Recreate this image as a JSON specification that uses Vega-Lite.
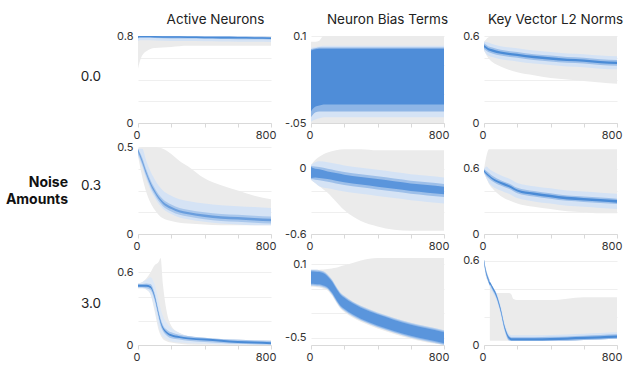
{
  "$schema": "https://vega.github.io/schema/vega-lite/v6.json",
  "padding": {"left": 5, "top": 12, "right": 0, "bottom": 0},
  "background": "white",
  "config": {
    "font": "Inter",
    "view": {"stroke": null},
    "axis": {"labelFont": "Inter", "labelFontSize": 11, "labelColor": "#333333", "gridColor": "#efefef"},
    "axisX": {"grid": false, "tickColor": "#d9d9d9", "domainColor": "#d9d9d9", "tickSize": 4, "labelFlush": true, "labelFlushOffset": 5, "labelPadding": 2, "title": null},
    "axisY": {"domain": false, "ticks": false, "labelPadding": 5, "title": null},
    "title": {"font": "Inter", "fontSize": 13.5, "fontWeight": "normal", "color": "#222222", "anchor": "middle", "frame": "group", "offset": 4}
  },
  "datasets": {
    "rowlabels": [{"row": "0.0"}, {"row": "0.3"}, {"row": "3.0"}],
    "heading": [{"t": "Noise Amounts"}],
    "a00": [
      {"s": 0, "k": "g", "lo": 0.50, "hi": 0.80}, {"s": 10, "k": "g", "lo": 0.56, "hi": 0.80}, {"s": 25, "k": "g", "lo": 0.62, "hi": 0.80}, {"s": 50, "k": "g", "lo": 0.66, "hi": 0.80}, {"s": 100, "k": "g", "lo": 0.69, "hi": 0.80}, {"s": 200, "k": "g", "lo": 0.70, "hi": 0.80}, {"s": 300, "k": "g", "lo": 0.71, "hi": 0.80}, {"s": 400, "k": "g", "lo": 0.71, "hi": 0.80}, {"s": 500, "k": "g", "lo": 0.71, "hi": 0.80}, {"s": 600, "k": "g", "lo": 0.71, "hi": 0.80}, {"s": 700, "k": "g", "lo": 0.71, "hi": 0.80}, {"s": 800, "k": "g", "lo": 0.71, "hi": 0.80},
      {"s": 0, "k": "o", "lo": 0.755, "hi": 0.80}, {"s": 10, "k": "o", "lo": 0.76, "hi": 0.80}, {"s": 25, "k": "o", "lo": 0.761, "hi": 0.80}, {"s": 50, "k": "o", "lo": 0.76, "hi": 0.80}, {"s": 100, "k": "o", "lo": 0.758, "hi": 0.80}, {"s": 200, "k": "o", "lo": 0.755, "hi": 0.80}, {"s": 300, "k": "o", "lo": 0.753, "hi": 0.80}, {"s": 400, "k": "o", "lo": 0.751, "hi": 0.80}, {"s": 500, "k": "o", "lo": 0.75, "hi": 0.799}, {"s": 600, "k": "o", "lo": 0.748, "hi": 0.797}, {"s": 700, "k": "o", "lo": 0.746, "hi": 0.795}, {"s": 800, "k": "o", "lo": 0.744, "hi": 0.793},
      {"s": 0, "k": "m", "lo": 0.778, "hi": 0.80}, {"s": 10, "k": "m", "lo": 0.783, "hi": 0.80}, {"s": 25, "k": "m", "lo": 0.784, "hi": 0.80}, {"s": 50, "k": "m", "lo": 0.783, "hi": 0.80}, {"s": 100, "k": "m", "lo": 0.781, "hi": 0.80}, {"s": 200, "k": "m", "lo": 0.778, "hi": 0.80}, {"s": 300, "k": "m", "lo": 0.776, "hi": 0.80}, {"s": 400, "k": "m", "lo": 0.774, "hi": 0.798}, {"s": 500, "k": "m", "lo": 0.773, "hi": 0.797}, {"s": 600, "k": "m", "lo": 0.771, "hi": 0.795}, {"s": 700, "k": "m", "lo": 0.769, "hi": 0.793}, {"s": 800, "k": "m", "lo": 0.767, "hi": 0.791},
      {"s": 0, "k": "c", "lo": 0.783, "hi": 0.797}, {"s": 10, "k": "c", "lo": 0.788, "hi": 0.80}, {"s": 25, "k": "c", "lo": 0.789, "hi": 0.80}, {"s": 50, "k": "c", "lo": 0.788, "hi": 0.80}, {"s": 100, "k": "c", "lo": 0.786, "hi": 0.80}, {"s": 200, "k": "c", "lo": 0.783, "hi": 0.797}, {"s": 300, "k": "c", "lo": 0.781, "hi": 0.795}, {"s": 400, "k": "c", "lo": 0.779, "hi": 0.793}, {"s": 500, "k": "c", "lo": 0.778, "hi": 0.792}, {"s": 600, "k": "c", "lo": 0.776, "hi": 0.79}, {"s": 700, "k": "c", "lo": 0.774, "hi": 0.788}, {"s": 800, "k": "c", "lo": 0.772, "hi": 0.786}
    ],
    "b00": [
      {"s": 0, "k": "g", "lo": -0.05, "hi": 0.09}, {"s": 10, "k": "g", "lo": -0.05, "hi": 0.09}, {"s": 25, "k": "g", "lo": -0.05, "hi": 0.09}, {"s": 50, "k": "g", "lo": -0.05, "hi": 0.092}, {"s": 75, "k": "g", "lo": -0.05, "hi": 0.1}, {"s": 200, "k": "g", "lo": -0.05, "hi": 0.1}, {"s": 400, "k": "g", "lo": -0.05, "hi": 0.1}, {"s": 600, "k": "g", "lo": -0.05, "hi": 0.1}, {"s": 800, "k": "g", "lo": -0.05, "hi": 0.1},
      {"s": 0, "k": "o", "lo": -0.048, "hi": 0.079}, {"s": 10, "k": "o", "lo": -0.046, "hi": 0.08}, {"s": 25, "k": "o", "lo": -0.044, "hi": 0.081}, {"s": 50, "k": "o", "lo": -0.042, "hi": 0.082}, {"s": 75, "k": "o", "lo": -0.04, "hi": 0.083}, {"s": 200, "k": "o", "lo": -0.04, "hi": 0.083}, {"s": 400, "k": "o", "lo": -0.04, "hi": 0.083}, {"s": 600, "k": "o", "lo": -0.04, "hi": 0.083}, {"s": 800, "k": "o", "lo": -0.04, "hi": 0.083},
      {"s": 0, "k": "m", "lo": -0.04, "hi": 0.077}, {"s": 10, "k": "m", "lo": -0.036, "hi": 0.078}, {"s": 25, "k": "m", "lo": -0.032, "hi": 0.079}, {"s": 50, "k": "m", "lo": -0.03, "hi": 0.08}, {"s": 75, "k": "m", "lo": -0.03, "hi": 0.08}, {"s": 200, "k": "m", "lo": -0.03, "hi": 0.08}, {"s": 400, "k": "m", "lo": -0.03, "hi": 0.08}, {"s": 600, "k": "m", "lo": -0.03, "hi": 0.08}, {"s": 800, "k": "m", "lo": -0.03, "hi": 0.08},
      {"s": 0, "k": "c", "lo": -0.03, "hi": 0.075}, {"s": 10, "k": "c", "lo": -0.026, "hi": 0.076}, {"s": 25, "k": "c", "lo": -0.022, "hi": 0.077}, {"s": 50, "k": "c", "lo": -0.02, "hi": 0.078}, {"s": 75, "k": "c", "lo": -0.018, "hi": 0.078}, {"s": 200, "k": "c", "lo": -0.018, "hi": 0.078}, {"s": 400, "k": "c", "lo": -0.018, "hi": 0.078}, {"s": 600, "k": "c", "lo": -0.018, "hi": 0.078}, {"s": 800, "k": "c", "lo": -0.018, "hi": 0.078}
    ],
    "c00": [
      {"s": 0, "k": "g", "lo": 0.50, "hi": 0.56}, {"s": 25, "k": "g", "lo": 0.45, "hi": 0.59}, {"s": 50, "k": "g", "lo": 0.42, "hi": 0.60}, {"s": 100, "k": "g", "lo": 0.39, "hi": 0.60}, {"s": 200, "k": "g", "lo": 0.35, "hi": 0.60}, {"s": 300, "k": "g", "lo": 0.33, "hi": 0.60}, {"s": 400, "k": "g", "lo": 0.31, "hi": 0.60}, {"s": 500, "k": "g", "lo": 0.30, "hi": 0.60}, {"s": 600, "k": "g", "lo": 0.29, "hi": 0.60}, {"s": 700, "k": "g", "lo": 0.28, "hi": 0.60}, {"s": 800, "k": "g", "lo": 0.27, "hi": 0.60},
      {"s": 0, "k": "o", "lo": 0.50, "hi": 0.56}, {"s": 25, "k": "o", "lo": 0.465, "hi": 0.555}, {"s": 50, "k": "o", "lo": 0.455, "hi": 0.545}, {"s": 100, "k": "o", "lo": 0.44, "hi": 0.53}, {"s": 200, "k": "o", "lo": 0.425, "hi": 0.515}, {"s": 300, "k": "o", "lo": 0.41, "hi": 0.50}, {"s": 400, "k": "o", "lo": 0.40, "hi": 0.49}, {"s": 500, "k": "o", "lo": 0.39, "hi": 0.48}, {"s": 600, "k": "o", "lo": 0.385, "hi": 0.475}, {"s": 700, "k": "o", "lo": 0.375, "hi": 0.465}, {"s": 800, "k": "o", "lo": 0.37, "hi": 0.46},
      {"s": 0, "k": "m", "lo": 0.51, "hi": 0.55}, {"s": 25, "k": "m", "lo": 0.49, "hi": 0.53}, {"s": 50, "k": "m", "lo": 0.48, "hi": 0.52}, {"s": 100, "k": "m", "lo": 0.465, "hi": 0.505}, {"s": 200, "k": "m", "lo": 0.45, "hi": 0.49}, {"s": 300, "k": "m", "lo": 0.435, "hi": 0.475}, {"s": 400, "k": "m", "lo": 0.425, "hi": 0.465}, {"s": 500, "k": "m", "lo": 0.415, "hi": 0.455}, {"s": 600, "k": "m", "lo": 0.41, "hi": 0.45}, {"s": 700, "k": "m", "lo": 0.40, "hi": 0.44}, {"s": 800, "k": "m", "lo": 0.395, "hi": 0.435},
      {"s": 0, "k": "c", "lo": 0.522, "hi": 0.538}, {"s": 25, "k": "c", "lo": 0.502, "hi": 0.518}, {"s": 50, "k": "c", "lo": 0.492, "hi": 0.508}, {"s": 100, "k": "c", "lo": 0.477, "hi": 0.493}, {"s": 200, "k": "c", "lo": 0.462, "hi": 0.478}, {"s": 300, "k": "c", "lo": 0.447, "hi": 0.463}, {"s": 400, "k": "c", "lo": 0.437, "hi": 0.453}, {"s": 500, "k": "c", "lo": 0.427, "hi": 0.443}, {"s": 600, "k": "c", "lo": 0.422, "hi": 0.438}, {"s": 700, "k": "c", "lo": 0.412, "hi": 0.428}, {"s": 800, "k": "c", "lo": 0.407, "hi": 0.423}
    ],
    "a03": [
      {"s": 0, "k": "g", "lo": 0.45, "hi": 0.49}, {"s": 25, "k": "g", "lo": 0.33, "hi": 0.50}, {"s": 50, "k": "g", "lo": 0.24, "hi": 0.50}, {"s": 75, "k": "g", "lo": 0.18, "hi": 0.50}, {"s": 100, "k": "g", "lo": 0.14, "hi": 0.50}, {"s": 150, "k": "g", "lo": 0.09, "hi": 0.49}, {"s": 200, "k": "g", "lo": 0.075, "hi": 0.46}, {"s": 250, "k": "g", "lo": 0.065, "hi": 0.42}, {"s": 300, "k": "g", "lo": 0.06, "hi": 0.39}, {"s": 400, "k": "g", "lo": 0.055, "hi": 0.32}, {"s": 500, "k": "g", "lo": 0.05, "hi": 0.28}, {"s": 600, "k": "g", "lo": 0.05, "hi": 0.25}, {"s": 700, "k": "g", "lo": 0.05, "hi": 0.22}, {"s": 800, "k": "g", "lo": 0.05, "hi": 0.20},
      {"s": 0, "k": "o", "lo": 0.45, "hi": 0.49}, {"s": 25, "k": "o", "lo": 0.385, "hi": 0.49}, {"s": 50, "k": "o", "lo": 0.315, "hi": 0.42}, {"s": 75, "k": "o", "lo": 0.255, "hi": 0.36}, {"s": 100, "k": "o", "lo": 0.21, "hi": 0.315}, {"s": 150, "k": "o", "lo": 0.145, "hi": 0.25}, {"s": 200, "k": "o", "lo": 0.115, "hi": 0.22}, {"s": 250, "k": "o", "lo": 0.095, "hi": 0.20}, {"s": 300, "k": "o", "lo": 0.085, "hi": 0.19}, {"s": 400, "k": "o", "lo": 0.07, "hi": 0.175}, {"s": 500, "k": "o", "lo": 0.06, "hi": 0.165}, {"s": 600, "k": "o", "lo": 0.055, "hi": 0.16}, {"s": 700, "k": "o", "lo": 0.05, "hi": 0.155}, {"s": 800, "k": "o", "lo": 0.05, "hi": 0.15},
      {"s": 0, "k": "m", "lo": 0.46, "hi": 0.49}, {"s": 25, "k": "m", "lo": 0.40, "hi": 0.44}, {"s": 50, "k": "m", "lo": 0.33, "hi": 0.37}, {"s": 75, "k": "m", "lo": 0.27, "hi": 0.31}, {"s": 100, "k": "m", "lo": 0.225, "hi": 0.265}, {"s": 150, "k": "m", "lo": 0.16, "hi": 0.20}, {"s": 200, "k": "m", "lo": 0.13, "hi": 0.17}, {"s": 250, "k": "m", "lo": 0.11, "hi": 0.15}, {"s": 300, "k": "m", "lo": 0.10, "hi": 0.14}, {"s": 400, "k": "m", "lo": 0.085, "hi": 0.125}, {"s": 500, "k": "m", "lo": 0.075, "hi": 0.115}, {"s": 600, "k": "m", "lo": 0.07, "hi": 0.11}, {"s": 700, "k": "m", "lo": 0.065, "hi": 0.105}, {"s": 800, "k": "m", "lo": 0.06, "hi": 0.10},
      {"s": 0, "k": "c", "lo": 0.473, "hi": 0.487}, {"s": 25, "k": "c", "lo": 0.413, "hi": 0.427}, {"s": 50, "k": "c", "lo": 0.343, "hi": 0.357}, {"s": 75, "k": "c", "lo": 0.283, "hi": 0.297}, {"s": 100, "k": "c", "lo": 0.238, "hi": 0.252}, {"s": 150, "k": "c", "lo": 0.173, "hi": 0.187}, {"s": 200, "k": "c", "lo": 0.143, "hi": 0.157}, {"s": 250, "k": "c", "lo": 0.123, "hi": 0.137}, {"s": 300, "k": "c", "lo": 0.113, "hi": 0.127}, {"s": 400, "k": "c", "lo": 0.098, "hi": 0.112}, {"s": 500, "k": "c", "lo": 0.088, "hi": 0.102}, {"s": 600, "k": "c", "lo": 0.083, "hi": 0.097}, {"s": 700, "k": "c", "lo": 0.078, "hi": 0.092}, {"s": 800, "k": "c", "lo": 0.073, "hi": 0.087}
    ],
    "b03": [
      {"s": 0, "k": "g", "lo": -0.10, "hi": 0.035}, {"s": 25, "k": "g", "lo": -0.13, "hi": 0.08}, {"s": 50, "k": "g", "lo": -0.16, "hi": 0.11}, {"s": 100, "k": "g", "lo": -0.22, "hi": 0.15}, {"s": 150, "k": "g", "lo": -0.30, "hi": 0.17}, {"s": 200, "k": "g", "lo": -0.38, "hi": 0.18}, {"s": 300, "k": "g", "lo": -0.48, "hi": 0.18}, {"s": 400, "k": "g", "lo": -0.53, "hi": 0.17}, {"s": 500, "k": "g", "lo": -0.56, "hi": 0.17}, {"s": 600, "k": "g", "lo": -0.57, "hi": 0.17}, {"s": 700, "k": "g", "lo": -0.57, "hi": 0.17}, {"s": 800, "k": "g", "lo": -0.57, "hi": 0.17},
      {"s": 0, "k": "o", "lo": -0.10, "hi": 0.035}, {"s": 25, "k": "o", "lo": -0.13, "hi": 0.06}, {"s": 50, "k": "o", "lo": -0.16, "hi": 0.07}, {"s": 100, "k": "o", "lo": -0.18, "hi": 0.06}, {"s": 150, "k": "o", "lo": -0.195, "hi": 0.045}, {"s": 200, "k": "o", "lo": -0.21, "hi": 0.03}, {"s": 300, "k": "o", "lo": -0.23, "hi": 0.01}, {"s": 400, "k": "o", "lo": -0.25, "hi": -0.01}, {"s": 500, "k": "o", "lo": -0.27, "hi": -0.03}, {"s": 600, "k": "o", "lo": -0.29, "hi": -0.05}, {"s": 700, "k": "o", "lo": -0.305, "hi": -0.065}, {"s": 800, "k": "o", "lo": -0.32, "hi": -0.08},
      {"s": 0, "k": "m", "lo": -0.095, "hi": 0.025}, {"s": 25, "k": "m", "lo": -0.10, "hi": 0.02}, {"s": 50, "k": "m", "lo": -0.105, "hi": 0.015}, {"s": 100, "k": "m", "lo": -0.12, "hi": 0.0}, {"s": 150, "k": "m", "lo": -0.135, "hi": -0.015}, {"s": 200, "k": "m", "lo": -0.15, "hi": -0.03}, {"s": 300, "k": "m", "lo": -0.17, "hi": -0.05}, {"s": 400, "k": "m", "lo": -0.19, "hi": -0.07}, {"s": 500, "k": "m", "lo": -0.21, "hi": -0.09}, {"s": 600, "k": "m", "lo": -0.23, "hi": -0.11}, {"s": 700, "k": "m", "lo": -0.245, "hi": -0.125}, {"s": 800, "k": "m", "lo": -0.26, "hi": -0.14},
      {"s": 0, "k": "c", "lo": -0.085, "hi": 0.015}, {"s": 25, "k": "c", "lo": -0.08, "hi": 0.0}, {"s": 50, "k": "c", "lo": -0.085, "hi": -0.005}, {"s": 100, "k": "c", "lo": -0.095, "hi": -0.025}, {"s": 150, "k": "c", "lo": -0.11, "hi": -0.04}, {"s": 200, "k": "c", "lo": -0.125, "hi": -0.055}, {"s": 300, "k": "c", "lo": -0.145, "hi": -0.075}, {"s": 400, "k": "c", "lo": -0.165, "hi": -0.095}, {"s": 500, "k": "c", "lo": -0.185, "hi": -0.115}, {"s": 600, "k": "c", "lo": -0.205, "hi": -0.135}, {"s": 700, "k": "c", "lo": -0.22, "hi": -0.15}, {"s": 800, "k": "c", "lo": -0.235, "hi": -0.165}
    ],
    "c03": [
      {"s": 0, "k": "g", "lo": 0.56, "hi": 0.60}, {"s": 15, "k": "g", "lo": 0.51, "hi": 0.72}, {"s": 30, "k": "g", "lo": 0.46, "hi": 0.78}, {"s": 50, "k": "g", "lo": 0.42, "hi": 0.78}, {"s": 100, "k": "g", "lo": 0.35, "hi": 0.78}, {"s": 150, "k": "g", "lo": 0.31, "hi": 0.78}, {"s": 200, "k": "g", "lo": 0.28, "hi": 0.78}, {"s": 300, "k": "g", "lo": 0.25, "hi": 0.78}, {"s": 400, "k": "g", "lo": 0.23, "hi": 0.78}, {"s": 500, "k": "g", "lo": 0.21, "hi": 0.78}, {"s": 600, "k": "g", "lo": 0.20, "hi": 0.78}, {"s": 700, "k": "g", "lo": 0.19, "hi": 0.78}, {"s": 800, "k": "g", "lo": 0.19, "hi": 0.78},
      {"s": 0, "k": "o", "lo": 0.56, "hi": 0.60}, {"s": 15, "k": "o", "lo": 0.51, "hi": 0.62}, {"s": 30, "k": "o", "lo": 0.47, "hi": 0.60}, {"s": 50, "k": "o", "lo": 0.44, "hi": 0.58}, {"s": 100, "k": "o", "lo": 0.40, "hi": 0.54}, {"s": 150, "k": "o", "lo": 0.37, "hi": 0.51}, {"s": 200, "k": "o", "lo": 0.33, "hi": 0.47}, {"s": 300, "k": "o", "lo": 0.30, "hi": 0.44}, {"s": 400, "k": "o", "lo": 0.28, "hi": 0.42}, {"s": 500, "k": "o", "lo": 0.26, "hi": 0.40}, {"s": 600, "k": "o", "lo": 0.25, "hi": 0.39}, {"s": 700, "k": "o", "lo": 0.24, "hi": 0.38}, {"s": 800, "k": "o", "lo": 0.23, "hi": 0.37},
      {"s": 0, "k": "m", "lo": 0.565, "hi": 0.595}, {"s": 15, "k": "m", "lo": 0.53, "hi": 0.58}, {"s": 30, "k": "m", "lo": 0.51, "hi": 0.56}, {"s": 50, "k": "m", "lo": 0.485, "hi": 0.535}, {"s": 100, "k": "m", "lo": 0.445, "hi": 0.495}, {"s": 150, "k": "m", "lo": 0.415, "hi": 0.465}, {"s": 200, "k": "m", "lo": 0.375, "hi": 0.425}, {"s": 300, "k": "m", "lo": 0.345, "hi": 0.395}, {"s": 400, "k": "m", "lo": 0.325, "hi": 0.375}, {"s": 500, "k": "m", "lo": 0.305, "hi": 0.355}, {"s": 600, "k": "m", "lo": 0.295, "hi": 0.345}, {"s": 700, "k": "m", "lo": 0.285, "hi": 0.335}, {"s": 800, "k": "m", "lo": 0.275, "hi": 0.325},
      {"s": 0, "k": "c", "lo": 0.572, "hi": 0.588}, {"s": 15, "k": "c", "lo": 0.547, "hi": 0.563}, {"s": 30, "k": "c", "lo": 0.527, "hi": 0.543}, {"s": 50, "k": "c", "lo": 0.502, "hi": 0.518}, {"s": 100, "k": "c", "lo": 0.46, "hi": 0.48}, {"s": 150, "k": "c", "lo": 0.43, "hi": 0.45}, {"s": 200, "k": "c", "lo": 0.39, "hi": 0.41}, {"s": 300, "k": "c", "lo": 0.358, "hi": 0.382}, {"s": 400, "k": "c", "lo": 0.338, "hi": 0.362}, {"s": 500, "k": "c", "lo": 0.318, "hi": 0.342}, {"s": 600, "k": "c", "lo": 0.308, "hi": 0.332}, {"s": 700, "k": "c", "lo": 0.298, "hi": 0.322}, {"s": 800, "k": "c", "lo": 0.288, "hi": 0.312}
    ],
    "a30": [
      {"s": 0, "k": "g", "lo": 0.47, "hi": 0.51}, {"s": 25, "k": "g", "lo": 0.47, "hi": 0.52}, {"s": 50, "k": "g", "lo": 0.46, "hi": 0.55}, {"s": 75, "k": "g", "lo": 0.42, "hi": 0.60}, {"s": 100, "k": "g", "lo": 0.28, "hi": 0.66}, {"s": 125, "k": "g", "lo": 0.12, "hi": 0.69}, {"s": 136, "k": "g", "lo": 0.08, "hi": 0.72}, {"s": 150, "k": "g", "lo": 0.05, "hi": 0.50}, {"s": 175, "k": "g", "lo": 0.03, "hi": 0.26}, {"s": 200, "k": "g", "lo": 0.02, "hi": 0.16}, {"s": 250, "k": "g", "lo": 0.01, "hi": 0.10}, {"s": 300, "k": "g", "lo": 0.005, "hi": 0.075}, {"s": 400, "k": "g", "lo": 0.003, "hi": 0.06}, {"s": 500, "k": "g", "lo": 0.002, "hi": 0.05}, {"s": 600, "k": "g", "lo": 0.002, "hi": 0.045}, {"s": 700, "k": "g", "lo": 0.002, "hi": 0.04}, {"s": 800, "k": "g", "lo": 0.002, "hi": 0.04},
      {"s": 0, "k": "o", "lo": 0.47, "hi": 0.51}, {"s": 25, "k": "o", "lo": 0.47, "hi": 0.52}, {"s": 50, "k": "o", "lo": 0.46, "hi": 0.54}, {"s": 75, "k": "o", "lo": 0.42, "hi": 0.56}, {"s": 100, "k": "o", "lo": 0.30, "hi": 0.50}, {"s": 125, "k": "o", "lo": 0.15, "hi": 0.36}, {"s": 136, "k": "o", "lo": 0.10, "hi": 0.30}, {"s": 150, "k": "o", "lo": 0.07, "hi": 0.24}, {"s": 175, "k": "o", "lo": 0.045, "hi": 0.18}, {"s": 200, "k": "o", "lo": 0.03, "hi": 0.14}, {"s": 250, "k": "o", "lo": 0.02, "hi": 0.10}, {"s": 300, "k": "o", "lo": 0.015, "hi": 0.075}, {"s": 400, "k": "o", "lo": 0.01, "hi": 0.06}, {"s": 500, "k": "o", "lo": 0.005, "hi": 0.05}, {"s": 600, "k": "o", "lo": 0.004, "hi": 0.045}, {"s": 700, "k": "o", "lo": 0.003, "hi": 0.04}, {"s": 800, "k": "o", "lo": 0.002, "hi": 0.04},
      {"s": 0, "k": "m", "lo": 0.475, "hi": 0.505}, {"s": 25, "k": "m", "lo": 0.475, "hi": 0.505}, {"s": 50, "k": "m", "lo": 0.47, "hi": 0.51}, {"s": 75, "k": "m", "lo": 0.455, "hi": 0.505}, {"s": 100, "k": "m", "lo": 0.37, "hi": 0.43}, {"s": 125, "k": "m", "lo": 0.22, "hi": 0.28}, {"s": 136, "k": "m", "lo": 0.16, "hi": 0.22}, {"s": 150, "k": "m", "lo": 0.115, "hi": 0.165}, {"s": 175, "k": "m", "lo": 0.075, "hi": 0.125}, {"s": 200, "k": "m", "lo": 0.055, "hi": 0.105}, {"s": 250, "k": "m", "lo": 0.045, "hi": 0.085}, {"s": 300, "k": "m", "lo": 0.035, "hi": 0.075}, {"s": 400, "k": "m", "lo": 0.025, "hi": 0.06}, {"s": 500, "k": "m", "lo": 0.017, "hi": 0.05}, {"s": 600, "k": "m", "lo": 0.01, "hi": 0.043}, {"s": 700, "k": "m", "lo": 0.006, "hi": 0.038}, {"s": 800, "k": "m", "lo": 0.004, "hi": 0.033},
      {"s": 0, "k": "c", "lo": 0.482, "hi": 0.498}, {"s": 25, "k": "c", "lo": 0.482, "hi": 0.498}, {"s": 50, "k": "c", "lo": 0.482, "hi": 0.498}, {"s": 75, "k": "c", "lo": 0.472, "hi": 0.488}, {"s": 100, "k": "c", "lo": 0.392, "hi": 0.408}, {"s": 125, "k": "c", "lo": 0.242, "hi": 0.258}, {"s": 136, "k": "c", "lo": 0.182, "hi": 0.198}, {"s": 150, "k": "c", "lo": 0.132, "hi": 0.148}, {"s": 175, "k": "c", "lo": 0.092, "hi": 0.108}, {"s": 200, "k": "c", "lo": 0.072, "hi": 0.088}, {"s": 250, "k": "c", "lo": 0.057, "hi": 0.073}, {"s": 300, "k": "c", "lo": 0.047, "hi": 0.063}, {"s": 400, "k": "c", "lo": 0.037, "hi": 0.053}, {"s": 500, "k": "c", "lo": 0.027, "hi": 0.043}, {"s": 600, "k": "c", "lo": 0.017, "hi": 0.033}, {"s": 700, "k": "c", "lo": 0.012, "hi": 0.028}, {"s": 800, "k": "c", "lo": 0.007, "hi": 0.023}
    ],
    "b30": [
      {"s": 0, "k": "g", "lo": -0.085, "hi": 0.055}, {"s": 25, "k": "g", "lo": -0.087, "hi": 0.055}, {"s": 50, "k": "g", "lo": -0.09, "hi": 0.055}, {"s": 75, "k": "g", "lo": -0.10, "hi": 0.056}, {"s": 100, "k": "g", "lo": -0.115, "hi": 0.06}, {"s": 125, "k": "g", "lo": -0.155, "hi": 0.065}, {"s": 150, "k": "g", "lo": -0.21, "hi": 0.07}, {"s": 175, "k": "g", "lo": -0.26, "hi": 0.08}, {"s": 200, "k": "g", "lo": -0.29, "hi": 0.09}, {"s": 250, "k": "g", "lo": -0.335, "hi": 0.11}, {"s": 300, "k": "g", "lo": -0.37, "hi": 0.13}, {"s": 400, "k": "g", "lo": -0.425, "hi": 0.15}, {"s": 500, "k": "g", "lo": -0.47, "hi": 0.15}, {"s": 600, "k": "g", "lo": -0.51, "hi": 0.15}, {"s": 700, "k": "g", "lo": -0.54, "hi": 0.15}, {"s": 800, "k": "g", "lo": -0.56, "hi": 0.15},
      {"s": 0, "k": "o", "lo": -0.076, "hi": 0.055}, {"s": 25, "k": "o", "lo": -0.078, "hi": 0.054}, {"s": 50, "k": "o", "lo": -0.081, "hi": 0.051}, {"s": 75, "k": "o", "lo": -0.091, "hi": 0.041}, {"s": 100, "k": "o", "lo": -0.106, "hi": 0.016}, {"s": 125, "k": "o", "lo": -0.146, "hi": -0.024}, {"s": 150, "k": "o", "lo": -0.201, "hi": -0.079}, {"s": 175, "k": "o", "lo": -0.251, "hi": -0.129}, {"s": 200, "k": "o", "lo": -0.281, "hi": -0.159}, {"s": 250, "k": "o", "lo": -0.326, "hi": -0.204}, {"s": 300, "k": "o", "lo": -0.361, "hi": -0.239}, {"s": 400, "k": "o", "lo": -0.416, "hi": -0.294}, {"s": 500, "k": "o", "lo": -0.461, "hi": -0.339}, {"s": 600, "k": "o", "lo": -0.501, "hi": -0.379}, {"s": 700, "k": "o", "lo": -0.531, "hi": -0.409}, {"s": 800, "k": "o", "lo": -0.56, "hi": -0.439},
      {"s": 0, "k": "m", "lo": -0.068, "hi": 0.048}, {"s": 25, "k": "m", "lo": -0.07, "hi": 0.046}, {"s": 50, "k": "m", "lo": -0.073, "hi": 0.043}, {"s": 75, "k": "m", "lo": -0.083, "hi": 0.033}, {"s": 100, "k": "m", "lo": -0.098, "hi": 0.008}, {"s": 125, "k": "m", "lo": -0.138, "hi": -0.032}, {"s": 150, "k": "m", "lo": -0.193, "hi": -0.087}, {"s": 175, "k": "m", "lo": -0.243, "hi": -0.137}, {"s": 200, "k": "m", "lo": -0.273, "hi": -0.167}, {"s": 250, "k": "m", "lo": -0.318, "hi": -0.212}, {"s": 300, "k": "m", "lo": -0.353, "hi": -0.247}, {"s": 400, "k": "m", "lo": -0.408, "hi": -0.302}, {"s": 500, "k": "m", "lo": -0.453, "hi": -0.347}, {"s": 600, "k": "m", "lo": -0.493, "hi": -0.387}, {"s": 700, "k": "m", "lo": -0.523, "hi": -0.417}, {"s": 800, "k": "m", "lo": -0.553, "hi": -0.447},
      {"s": 0, "k": "c", "lo": -0.06, "hi": 0.04}, {"s": 25, "k": "c", "lo": -0.062, "hi": 0.038}, {"s": 50, "k": "c", "lo": -0.065, "hi": 0.035}, {"s": 75, "k": "c", "lo": -0.075, "hi": 0.025}, {"s": 100, "k": "c", "lo": -0.09, "hi": 0.0}, {"s": 125, "k": "c", "lo": -0.13, "hi": -0.04}, {"s": 150, "k": "c", "lo": -0.185, "hi": -0.095}, {"s": 175, "k": "c", "lo": -0.235, "hi": -0.145}, {"s": 200, "k": "c", "lo": -0.265, "hi": -0.175}, {"s": 250, "k": "c", "lo": -0.31, "hi": -0.22}, {"s": 300, "k": "c", "lo": -0.345, "hi": -0.255}, {"s": 400, "k": "c", "lo": -0.40, "hi": -0.31}, {"s": 500, "k": "c", "lo": -0.445, "hi": -0.355}, {"s": 600, "k": "c", "lo": -0.485, "hi": -0.395}, {"s": 700, "k": "c", "lo": -0.515, "hi": -0.425}, {"s": 800, "k": "c", "lo": -0.545, "hi": -0.455}
    ],
    "c30": [
      {"s": 0, "k": "g", "lo": 0.58, "hi": 0.61}, {"s": 10, "k": "g", "lo": 0.50, "hi": 0.55}, {"s": 25, "k": "g", "lo": 0.45, "hi": 0.49}, {"s": 35, "k": "g", "lo": 0.42, "hi": 0.455}, {"s": 36, "k": "g", "lo": 0.03, "hi": 0.45}, {"s": 50, "k": "g", "lo": 0.03, "hi": 0.42}, {"s": 75, "k": "g", "lo": 0.03, "hi": 0.37}, {"s": 100, "k": "g", "lo": 0.03, "hi": 0.37}, {"s": 125, "k": "g", "lo": 0.03, "hi": 0.37}, {"s": 150, "k": "g", "lo": 0.03, "hi": 0.37}, {"s": 165, "k": "g", "lo": 0.03, "hi": 0.36}, {"s": 175, "k": "g", "lo": 0.03, "hi": 0.33}, {"s": 200, "k": "g", "lo": 0.03, "hi": 0.32}, {"s": 300, "k": "g", "lo": 0.03, "hi": 0.32}, {"s": 400, "k": "g", "lo": 0.03, "hi": 0.32}, {"s": 500, "k": "g", "lo": 0.03, "hi": 0.33}, {"s": 600, "k": "g", "lo": 0.035, "hi": 0.34}, {"s": 700, "k": "g", "lo": 0.04, "hi": 0.34}, {"s": 800, "k": "g", "lo": 0.045, "hi": 0.34},
      {"s": 0, "k": "o", "lo": 0.58, "hi": 0.61}, {"s": 10, "k": "o", "lo": 0.50, "hi": 0.55}, {"s": 25, "k": "o", "lo": 0.45, "hi": 0.49}, {"s": 35, "k": "o", "lo": 0.42, "hi": 0.455}, {"s": 36, "k": "o", "lo": 0.41, "hi": 0.45}, {"s": 50, "k": "o", "lo": 0.38, "hi": 0.42}, {"s": 75, "k": "o", "lo": 0.32, "hi": 0.37}, {"s": 100, "k": "o", "lo": 0.22, "hi": 0.28}, {"s": 125, "k": "o", "lo": 0.09, "hi": 0.15}, {"s": 150, "k": "o", "lo": 0.03, "hi": 0.08}, {"s": 165, "k": "o", "lo": 0.03, "hi": 0.07}, {"s": 175, "k": "o", "lo": 0.03, "hi": 0.07}, {"s": 200, "k": "o", "lo": 0.03, "hi": 0.07}, {"s": 300, "k": "o", "lo": 0.03, "hi": 0.07}, {"s": 400, "k": "o", "lo": 0.03, "hi": 0.072}, {"s": 500, "k": "o", "lo": 0.03, "hi": 0.075}, {"s": 600, "k": "o", "lo": 0.035, "hi": 0.08}, {"s": 700, "k": "o", "lo": 0.04, "hi": 0.085}, {"s": 800, "k": "o", "lo": 0.045, "hi": 0.09},
      {"s": 0, "k": "m", "lo": 0.584, "hi": 0.61}, {"s": 10, "k": "m", "lo": 0.514, "hi": 0.546}, {"s": 25, "k": "m", "lo": 0.454, "hi": 0.486}, {"s": 35, "k": "m", "lo": 0.424, "hi": 0.455}, {"s": 36, "k": "m", "lo": 0.424, "hi": 0.45}, {"s": 50, "k": "m", "lo": 0.394, "hi": 0.42}, {"s": 75, "k": "m", "lo": 0.334, "hi": 0.366}, {"s": 100, "k": "m", "lo": 0.234, "hi": 0.266}, {"s": 125, "k": "m", "lo": 0.104, "hi": 0.136}, {"s": 150, "k": "m", "lo": 0.034, "hi": 0.066}, {"s": 165, "k": "m", "lo": 0.03, "hi": 0.056}, {"s": 175, "k": "m", "lo": 0.03, "hi": 0.056}, {"s": 200, "k": "m", "lo": 0.03, "hi": 0.056}, {"s": 300, "k": "m", "lo": 0.03, "hi": 0.056}, {"s": 400, "k": "m", "lo": 0.03, "hi": 0.058}, {"s": 500, "k": "m", "lo": 0.03, "hi": 0.061}, {"s": 600, "k": "m", "lo": 0.035, "hi": 0.066}, {"s": 700, "k": "m", "lo": 0.04, "hi": 0.071}, {"s": 800, "k": "m", "lo": 0.045, "hi": 0.076},
      {"s": 0, "k": "c", "lo": 0.592, "hi": 0.608}, {"s": 10, "k": "c", "lo": 0.522, "hi": 0.538}, {"s": 25, "k": "c", "lo": 0.462, "hi": 0.478}, {"s": 35, "k": "c", "lo": 0.432, "hi": 0.448}, {"s": 36, "k": "c", "lo": 0.432, "hi": 0.448}, {"s": 50, "k": "c", "lo": 0.402, "hi": 0.418}, {"s": 75, "k": "c", "lo": 0.342, "hi": 0.358}, {"s": 100, "k": "c", "lo": 0.242, "hi": 0.258}, {"s": 125, "k": "c", "lo": 0.112, "hi": 0.128}, {"s": 150, "k": "c", "lo": 0.042, "hi": 0.058}, {"s": 165, "k": "c", "lo": 0.032, "hi": 0.048}, {"s": 175, "k": "c", "lo": 0.032, "hi": 0.048}, {"s": 200, "k": "c", "lo": 0.032, "hi": 0.048}, {"s": 300, "k": "c", "lo": 0.032, "hi": 0.048}, {"s": 400, "k": "c", "lo": 0.034, "hi": 0.05}, {"s": 500, "k": "c", "lo": 0.037, "hi": 0.053}, {"s": 600, "k": "c", "lo": 0.042, "hi": 0.058}, {"s": 700, "k": "c", "lo": 0.047, "hi": 0.063}, {"s": 800, "k": "c", "lo": 0.052, "hi": 0.068}
    ]
  },
  "columns": 4,
  "bounds": "flush",
  "align": "each",
  "spacing": {"row": 24, "column": 40},
  "concat": [
    {
      "width": 92, "height": 87,
      "data": {"name": "rowlabels"},
      "transform": [{"filter": "datum.row == '0.0'"}],
      "mark": {"type": "text", "fontSize": 13.5, "color": "#222222", "align": "right", "baseline": "middle", "dx": 3, "dy": -3},
      "encoding": {"x": {"value": "width"}, "text": {"field": "row"}}
    },
    {
      "data": {"name": "a00"}, "width": 133, "height": 87,
      "title": {"text": "Active Neurons", "dx": 11},
      "encoding": {
        "x": {"field": "s", "type": "quantitative", "scale": {"domain": [0, 800]}, "axis": {"values": [0, 200, 400, 600, 800], "labelExpr": "datum.value == 0 || datum.value == 800 ? datum.label : ''"}},
        "y": {"field": "lo", "type": "quantitative", "scale": {"domain": [0, 0.8]}, "axis": {"values": [0, 0.2, 0.4, 0.6, 0.8], "labelExpr": "datum.value == 0.8 ? '0.8' : datum.value == 0 ? '0' : ''"}},
        "y2": {"field": "hi"}
      },
      "layer": [
        {"transform": [{"filter": "datum.k == 'g'"}], "mark": {"type": "area", "color": "#ebebeb", "interpolate": "monotone"}, "encoding": {}},
        {"transform": [{"filter": "datum.k == 'o'"}], "mark": {"type": "area", "color": "#d5e3f5", "interpolate": "monotone"}, "encoding": {}},
        {"transform": [{"filter": "datum.k == 'm'"}], "mark": {"type": "area", "color": "#9dbfe9", "interpolate": "monotone"}, "encoding": {}},
        {"transform": [{"filter": "datum.k == 'c'"}], "mark": {"type": "area", "color": "#4a8bd6", "interpolate": "monotone"}, "encoding": {}}
      ]
    },
    {
      "data": {"name": "b00"}, "width": 133, "height": 87,
      "title": {"text": "Neuron Bias Terms", "dx": 10},
      "encoding": {
        "x": {"field": "s", "type": "quantitative", "scale": {"domain": [0, 800]}, "axis": {"values": [0, 200, 400, 600, 800], "labelExpr": "datum.value == 0 || datum.value == 800 ? datum.label : ''"}},
        "y": {"field": "lo", "type": "quantitative", "scale": {"domain": [-0.05, 0.1]}, "axis": {"values": [-0.05, 0, 0.05, 0.1], "labelExpr": "datum.value == 0.1 ? '0.1' : datum.value == -0.05 ? '-.05' : ''"}},
        "y2": {"field": "hi"}
      },
      "layer": [
        {"transform": [{"filter": "datum.k == 'g'"}], "mark": {"type": "area", "color": "#ebebeb", "interpolate": "monotone"}, "encoding": {}},
        {"transform": [{"filter": "datum.k == 'o'"}], "mark": {"type": "area", "color": "#d5e3f5", "interpolate": "monotone"}, "encoding": {}},
        {"transform": [{"filter": "datum.k == 'm'"}], "mark": {"type": "area", "color": "#8fb6e6", "interpolate": "monotone"}, "encoding": {}},
        {"transform": [{"filter": "datum.k == 'c'"}], "mark": {"type": "area", "color": "#4f8dd8", "interpolate": "monotone"}, "encoding": {}}
      ]
    },
    {
      "data": {"name": "c00"}, "width": 133, "height": 87,
      "title": {"text": "Key Vector L2 Norms", "dx": 5},
      "encoding": {
        "x": {"field": "s", "type": "quantitative", "scale": {"domain": [0, 800]}, "axis": {"values": [0, 200, 400, 600, 800], "labelExpr": "datum.value == 0 || datum.value == 800 ? datum.label : ''"}},
        "y": {"field": "lo", "type": "quantitative", "scale": {"domain": [0, 0.6]}, "axis": {"values": [0, 0.15, 0.3, 0.45, 0.6], "labelExpr": "datum.value == 0.6 ? '0.6' : datum.value == 0 ? '0' : ''"}},
        "y2": {"field": "hi"}
      },
      "layer": [
        {"transform": [{"filter": "datum.k == 'g'"}], "mark": {"type": "area", "color": "#ebebeb", "interpolate": "monotone"}, "encoding": {}},
        {"transform": [{"filter": "datum.k == 'o'"}], "mark": {"type": "area", "color": "#d5e3f5", "interpolate": "monotone"}, "encoding": {}},
        {"transform": [{"filter": "datum.k == 'm'"}], "mark": {"type": "area", "color": "#9dbfe9", "interpolate": "monotone"}, "encoding": {}},
        {"transform": [{"filter": "datum.k == 'c'"}], "mark": {"type": "area", "color": "#4a8bd6", "interpolate": "monotone"}, "encoding": {}}
      ]
    },
    {
      "width": 92, "height": 87,
      "layer": [
        {
          "data": {"name": "rowlabels"},
          "transform": [{"filter": "datum.row == '0.3'"}],
          "mark": {"type": "text", "fontSize": 13.5, "color": "#222222", "align": "right", "baseline": "middle", "dx": 3, "dy": -5},
          "encoding": {"x": {"value": "width"}, "text": {"field": "row"}}
        },
        {
          "data": {"name": "heading"},
          "mark": {"type": "text", "fontSize": 14, "fontWeight": "bold", "color": "#111111", "align": "right", "baseline": "middle", "lineBreak": " ", "lineHeight": 17, "dx": -30, "dy": -8},
          "encoding": {"x": {"value": "width"}, "text": {"field": "t"}}
        }
      ]
    },
    {
      "data": {"name": "a03"}, "width": 133, "height": 87,
      "encoding": {
        "x": {"field": "s", "type": "quantitative", "scale": {"domain": [0, 800]}, "axis": {"values": [0, 200, 400, 600, 800], "labelExpr": "datum.value == 0 || datum.value == 800 ? datum.label : ''"}},
        "y": {"field": "lo", "type": "quantitative", "scale": {"domain": [0, 0.5]}, "axis": {"values": [0, 0.125, 0.25, 0.375, 0.5], "labelExpr": "datum.value == 0.5 ? '0.5' : datum.value == 0 ? '0' : ''"}},
        "y2": {"field": "hi"}
      },
      "layer": [
        {"transform": [{"filter": "datum.k == 'g'"}], "mark": {"type": "area", "color": "#ebebeb", "interpolate": "monotone"}, "encoding": {}},
        {"transform": [{"filter": "datum.k == 'o'"}], "mark": {"type": "area", "color": "#d5e3f5", "interpolate": "monotone"}, "encoding": {}},
        {"transform": [{"filter": "datum.k == 'm'"}], "mark": {"type": "area", "color": "#a9c7ec", "interpolate": "monotone"}, "encoding": {}},
        {"transform": [{"filter": "datum.k == 'c'"}], "mark": {"type": "area", "color": "#6a9edd", "interpolate": "monotone"}, "encoding": {}}
      ]
    },
    {
      "data": {"name": "b03"}, "width": 133, "height": 87,
      "encoding": {
        "x": {"field": "s", "type": "quantitative", "scale": {"domain": [0, 800]}, "axis": {"values": [0, 200, 400, 600, 800], "labelExpr": "datum.value == 0 || datum.value == 800 ? datum.label : ''"}},
        "y": {"field": "lo", "type": "quantitative", "scale": {"domain": [-0.6, 0.2]}, "axis": {"values": [-0.6, -0.4, -0.2, 0], "labelExpr": "datum.value == 0 ? '0' : datum.value == -0.6 ? '-0.6' : ''"}},
        "y2": {"field": "hi"}
      },
      "layer": [
        {"transform": [{"filter": "datum.k == 'g'"}], "mark": {"type": "area", "color": "#ebebeb", "interpolate": "monotone"}, "encoding": {}},
        {"transform": [{"filter": "datum.k == 'o'"}], "mark": {"type": "area", "color": "#d5e3f5", "interpolate": "monotone"}, "encoding": {}},
        {"transform": [{"filter": "datum.k == 'm'"}], "mark": {"type": "area", "color": "#9dbfe9", "interpolate": "monotone"}, "encoding": {}},
        {"transform": [{"filter": "datum.k == 'c'"}], "mark": {"type": "area", "color": "#5a95dc", "interpolate": "monotone"}, "encoding": {}}
      ]
    },
    {
      "data": {"name": "c03"}, "width": 133, "height": 87,
      "encoding": {
        "x": {"field": "s", "type": "quantitative", "scale": {"domain": [0, 800]}, "axis": {"values": [0, 200, 400, 600, 800], "labelExpr": "datum.value == 0 || datum.value == 800 ? datum.label : ''"}},
        "y": {"field": "lo", "type": "quantitative", "scale": {"domain": [0, 0.8]}, "axis": {"values": [0, 0.2, 0.4, 0.6], "labelExpr": "datum.value == 0.6 ? '0.6' : datum.value == 0 ? '0' : ''"}},
        "y2": {"field": "hi"}
      },
      "layer": [
        {"transform": [{"filter": "datum.k == 'g'"}], "mark": {"type": "area", "color": "#ebebeb", "interpolate": "monotone"}, "encoding": {}},
        {"transform": [{"filter": "datum.k == 'o'"}], "mark": {"type": "area", "color": "#d5e3f5", "interpolate": "monotone"}, "encoding": {}},
        {"transform": [{"filter": "datum.k == 'm'"}], "mark": {"type": "area", "color": "#9dbfe9", "interpolate": "monotone"}, "encoding": {}},
        {"transform": [{"filter": "datum.k == 'c'"}], "mark": {"type": "area", "color": "#4a8bd6", "interpolate": "monotone"}, "encoding": {}}
      ]
    },
    {
      "width": 92, "height": 87,
      "data": {"name": "rowlabels"},
      "transform": [{"filter": "datum.row == '3.0'"}],
      "mark": {"type": "text", "fontSize": 13.5, "color": "#222222", "align": "right", "baseline": "middle", "dx": 3, "dy": 2},
      "encoding": {"x": {"value": "width"}, "text": {"field": "row"}}
    },
    {
      "data": {"name": "a30"}, "width": 133, "height": 87,
      "encoding": {
        "x": {"field": "s", "type": "quantitative", "scale": {"domain": [0, 800]}, "axis": {"values": [0, 200, 400, 600, 800], "labelExpr": "datum.value == 0 || datum.value == 800 ? datum.label : ''"}},
        "y": {"field": "lo", "type": "quantitative", "scale": {"domain": [0, 0.72]}, "axis": {"values": [0, 0.2, 0.4, 0.6], "labelExpr": "datum.value == 0.6 ? '0.6' : datum.value == 0 ? '0' : ''"}},
        "y2": {"field": "hi"}
      },
      "layer": [
        {"transform": [{"filter": "datum.k == 'g'"}], "mark": {"type": "area", "color": "#ebebeb", "interpolate": "monotone"}, "encoding": {}},
        {"transform": [{"filter": "datum.k == 'o'"}], "mark": {"type": "area", "color": "#dde8f6", "interpolate": "monotone"}, "encoding": {}},
        {"transform": [{"filter": "datum.k == 'm'"}], "mark": {"type": "area", "color": "#a9c7ec", "interpolate": "monotone"}, "encoding": {}},
        {"transform": [{"filter": "datum.k == 'c'"}], "mark": {"type": "area", "color": "#4a8bd6", "interpolate": "monotone"}, "encoding": {}}
      ]
    },
    {
      "data": {"name": "b30"}, "width": 133, "height": 87,
      "encoding": {
        "x": {"field": "s", "type": "quantitative", "scale": {"domain": [0, 800]}, "axis": {"values": [0, 200, 400, 600, 800], "labelExpr": "datum.value == 0 || datum.value == 800 ? datum.label : ''"}},
        "y": {"field": "lo", "type": "quantitative", "scale": {"domain": [-0.56, 0.15]}, "axis": {"values": [-0.5, -0.3, -0.1, 0.1], "labelExpr": "datum.value == 0.1 ? '0.1' : datum.value == -0.5 ? '-0.5' : ''"}},
        "y2": {"field": "hi"}
      },
      "layer": [
        {"transform": [{"filter": "datum.k == 'g'"}], "mark": {"type": "area", "color": "#ebebeb", "interpolate": "monotone"}, "encoding": {}},
        {"transform": [{"filter": "datum.k == 'o'"}], "mark": {"type": "area", "color": "#b7d0ef", "interpolate": "monotone"}, "encoding": {}},
        {"transform": [{"filter": "datum.k == 'm'"}], "mark": {"type": "area", "color": "#8fb6e6", "interpolate": "monotone"}, "encoding": {}},
        {"transform": [{"filter": "datum.k == 'c'"}], "mark": {"type": "area", "color": "#5a95dc", "interpolate": "monotone"}, "encoding": {}}
      ]
    },
    {
      "data": {"name": "c30"}, "width": 133, "height": 87,
      "encoding": {
        "x": {"field": "s", "type": "quantitative", "scale": {"domain": [0, 800]}, "axis": {"values": [0, 200, 400, 600, 800], "labelExpr": "datum.value == 0 || datum.value == 800 ? datum.label : ''"}},
        "y": {"field": "lo", "type": "quantitative", "scale": {"domain": [0, 0.62]}, "axis": {"values": [0, 0.2, 0.4, 0.6], "labelExpr": "datum.value == 0.6 ? '0.6' : datum.value == 0 ? '0' : ''"}},
        "y2": {"field": "hi"}
      },
      "layer": [
        {"transform": [{"filter": "datum.k == 'g'"}], "mark": {"type": "area", "color": "#ebebeb", "interpolate": "monotone"}, "encoding": {}},
        {"transform": [{"filter": "datum.k == 'o'"}], "mark": {"type": "area", "color": "#d5e3f5", "interpolate": "monotone"}, "encoding": {}},
        {"transform": [{"filter": "datum.k == 'm'"}], "mark": {"type": "area", "color": "#9dbfe9", "interpolate": "monotone"}, "encoding": {}},
        {"transform": [{"filter": "datum.k == 'c'"}], "mark": {"type": "area", "color": "#4a8bd6", "interpolate": "monotone"}, "encoding": {}}
      ]
    }
  ]
}
